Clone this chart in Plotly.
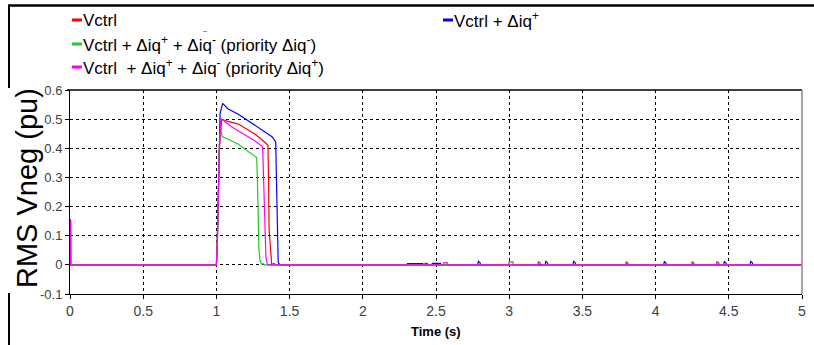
import plotly.graph_objects as go

# ---------------- data ----------------
red_t = [0, 1.0, 1.006, 1.012, 1.02, 1.036, 1.06, 1.1, 1.15, 1.2, 1.265, 1.31, 1.352, 1.356, 1.36, 1.366, 1.372, 1.378, 1.39, 1.395, 1.40,
         2.42, 2.425, 2.44, 2.45, 5.0]
red_v = [0, 0, 0.08, 0.224, 0.40, 0.50, 0.495, 0.49, 0.483, 0.468, 0.448, 0.43, 0.41, 0.30, 0.12, 0.08, 0.03, 0, 0.004, 0.004, 0,
         0, 0.005, 0.005, 0, 0]

blue_t = [0, 1.0, 1.008, 1.013, 1.018, 1.025, 1.043, 1.08, 1.15, 1.2, 1.265, 1.33, 1.38, 1.405, 1.409, 1.413, 1.418, 1.422, 1.428, 1.435,
          2.30, 2.305, 2.41, 2.415, 2.47, 2.475, 2.53, 2.535,
          2.785, 2.79, 2.80, 2.805, 3.245, 3.25, 3.26, 3.265, 3.435, 3.44, 3.45, 3.455,
          4.055, 4.06, 4.07, 4.075, 4.465, 4.47, 4.48, 4.485, 4.645, 4.65, 4.66, 4.665, 5.0]
blue_v = [0, 0, 0.10, 0.224, 0.40, 0.52, 0.554, 0.535, 0.517, 0.50, 0.477, 0.455, 0.44, 0.422, 0.30, 0.15, 0.05, 0.01, 0.004, 0,
          0, 0.004, 0.004, 0, 0, 0.005, 0.005, 0,
          0, 0.012, 0.008, 0, 0, 0.012, 0.008, 0, 0, 0.012, 0.008, 0,
          0, 0.011, 0.007, 0, 0, 0.011, 0.007, 0, 0, 0.012, 0.008, 0, 0]

green_t = [0, 1.0, 1.006, 1.012, 1.02, 1.028, 1.04, 1.081, 1.15, 1.218, 1.275, 1.28, 1.285, 1.29, 1.296, 1.302, 1.31, 1.32, 1.33,
           3.195, 3.20, 3.21, 3.215, 3.795, 3.80, 3.81, 3.815, 4.245, 4.25, 4.26, 4.265, 4.415, 4.42, 4.43, 4.435, 5.0]
green_v = [0, 0, 0.08, 0.224, 0.40, 0.47, 0.44, 0.431, 0.414, 0.389, 0.368, 0.30, 0.15, 0.06, 0.02, 0.008, 0.003, 0.004, 0,
           0, 0.011, 0.008, 0, 0, 0.011, 0.008, 0, 0, 0.011, 0.008, 0, 0, 0.011, 0.008, 0, 0]

mag_t = [0, 0.001, 0.006, 0.008, 1.0, 1.006, 1.012, 1.02, 1.03, 1.045, 1.1, 1.15, 1.265, 1.316, 1.322, 1.327, 1.333, 1.338, 1.343, 1.35,
         2.55, 2.555, 2.575, 2.58, 2.995, 3.0, 3.025, 3.03, 3.195, 3.20, 3.21, 3.215, 3.795, 3.80, 3.81, 3.815,
         4.245, 4.25, 4.26, 4.265, 4.415, 4.42, 4.43, 4.435, 5.0]
mag_v = [0, 0.158, 0.15, 0, 0, 0.08, 0.224, 0.397, 0.498, 0.497, 0.475, 0.46, 0.425, 0.405, 0.30, 0.18, 0.08, 0.03, 0.01, 0,
         0, 0.008, 0.008, 0, 0, 0.01, 0.01, 0, 0, 0.01, 0.007, 0, 0, 0.008, 0.006, 0,
         0, 0.008, 0.006, 0, 0, 0.01, 0.007, 0, 0]

x_ticks = [0, 0.5, 1, 1.5, 2, 2.5, 3, 3.5, 4, 4.5, 5]
x_ticklabels = ["0", "0.5", "1", "1.5", "2", "2.5", "3", "3.5", "4", "4.5", "5"]
y_ticks = [-0.1, 0, 0.1, 0.2, 0.3, 0.4, 0.5, 0.6]
y_ticklabels = ["-0.1", "0", "0.1", "0.2", "0.3", "0.4", "0.5", "0.6"]

series = [
    ("Vctrl + Δiq<sup>+</sup>", blue_t, blue_v, "#0000ff"),
    ("Vctrl", red_t, red_v, "#ff0000"),
    ("Vctrl + Δiq<sup>+</sup> + Δiq<sup>-</sup> (priority Δiq<sup>-</sup>)", green_t, green_v, "#22cc22"),
    ("Vctrl  + Δiq<sup>+</sup> + Δiq<sup>-</sup> (priority Δiq<sup>+</sup>)", mag_t, mag_v, "#ff00ff"),
]

# ---------------- layout geometry (pixels) ----------------
W, H = 814, 345
L, R, T, B = 70, 802, 90, 294
PW, PH = R - L, B - T


def px(xp):
    return (xp - L) / PW


def py(yp):
    return (B - yp) / PH


fig = go.Figure()
for name, t, v, c in series:
    fig.add_trace(go.Scatter(x=t, y=v, mode="lines", name=name,
                             line=dict(color=c, width=1.2), showlegend=False))

tickfont = dict(family="Liberation Sans, Arial, sans-serif", size=13, color="#404040")
fig.update_layout(
    width=W, height=H,
    margin=dict(l=L, r=W - R, t=T, b=H - B, autoexpand=False),
    paper_bgcolor="white", plot_bgcolor="white",
    xaxis=dict(range=[0, 5], tickvals=x_ticks, ticktext=x_ticklabels, automargin=False,
               showgrid=True, gridcolor="black", griddash="dot", gridwidth=1,
               showline=True, linecolor="black", linewidth=1,
               ticks="outside", ticklen=4, tickcolor="black",
               tickfont=dict(family="Liberation Sans Narrow, Arial Narrow, sans-serif", size=14, color="#404040"),
               zeroline=False),
    yaxis=dict(range=[-0.1, 0.6], tickvals=y_ticks, ticktext=y_ticklabels, automargin=False,
               showgrid=True, gridcolor="black", griddash="dot", gridwidth=1,
               showline=True, linecolor="black", linewidth=1,
               ticks="outside", ticklen=4, tickcolor="black",
               tickfont=tickfont, zeroline=False),
)

shapes = []
# plot frame top/right
shapes.append(dict(type="line", xref="paper", yref="paper", x0=px(67), x1=1.0, y0=1, y1=1,
                   line=dict(color="black", width=1.5)))
shapes.append(dict(type="line", xref="paper", yref="paper", x0=1, x1=1, y0=0, y1=1,
                   line=dict(color="#888888", width=1.5)))
# outer legend frame
shapes.append(dict(type="line", xref="paper", yref="paper", x0=px(8), x1=px(814), y0=py(5.5), y1=py(5.5),
                   line=dict(color="black", width=2.5)))
shapes.append(dict(type="line", xref="paper", yref="paper", x0=px(9), x1=px(9), y0=py(5), y1=py(88),
                   line=dict(color="black", width=2)))
shapes.append(dict(type="line", xref="paper", yref="paper", x0=px(9), x1=px(9), y0=py(293), y1=py(345),
                   line=dict(color="black", width=2)))
# stray mark
shapes.append(dict(type="line", xref="paper", yref="paper", x0=px(203), x1=px(207), y0=py(31.5), y1=py(31.5),
                   line=dict(color="#999999", width=1)))

annotations = []
legend_items = [
    (series[1][0], series[1][3], 72, 20),
    (series[0][0], series[0][3], 443, 20),
    (series[2][0], series[2][3], 72, 44),
    (series[3][0], series[3][3], 72, 67),
]
for text, c, x0, y0 in legend_items:
    shapes.append(dict(type="line", xref="paper", yref="paper", x0=px(x0), x1=px(x0 + 10), y0=py(y0), y1=py(y0),
                       line=dict(color=c, width=3)))
    annotations.append(dict(text=text, xref="paper", yref="paper", x=px(x0 + 9), y=py(y0),
                            xanchor="left", yanchor="middle", showarrow=False,
                            font=dict(family="Liberation Sans, Arial, sans-serif", size=17, color="black")))

annotations.append(dict(text="RMS Vneg (pu)", xref="paper", yref="paper", x=px(27), y=py(188),
                        xanchor="center", yanchor="middle", textangle=-90, showarrow=False,
                        font=dict(family="Liberation Sans, Arial, sans-serif", size=29, color="black")))
annotations.append(dict(text="<b>Time (s)</b>", xref="paper", yref="paper", x=px(436), y=py(331),
                        xanchor="center", yanchor="middle", showarrow=False,
                        font=dict(family="Liberation Sans Narrow, Arial Narrow, sans-serif", size=13, color="black")))

fig.update_layout(shapes=shapes, annotations=annotations)
fig.write_html("out.html", config={"responsive": False, "displayModeBar": False},
               post_script="document.body.style.margin='0';document.body.style.overflow='hidden';")
